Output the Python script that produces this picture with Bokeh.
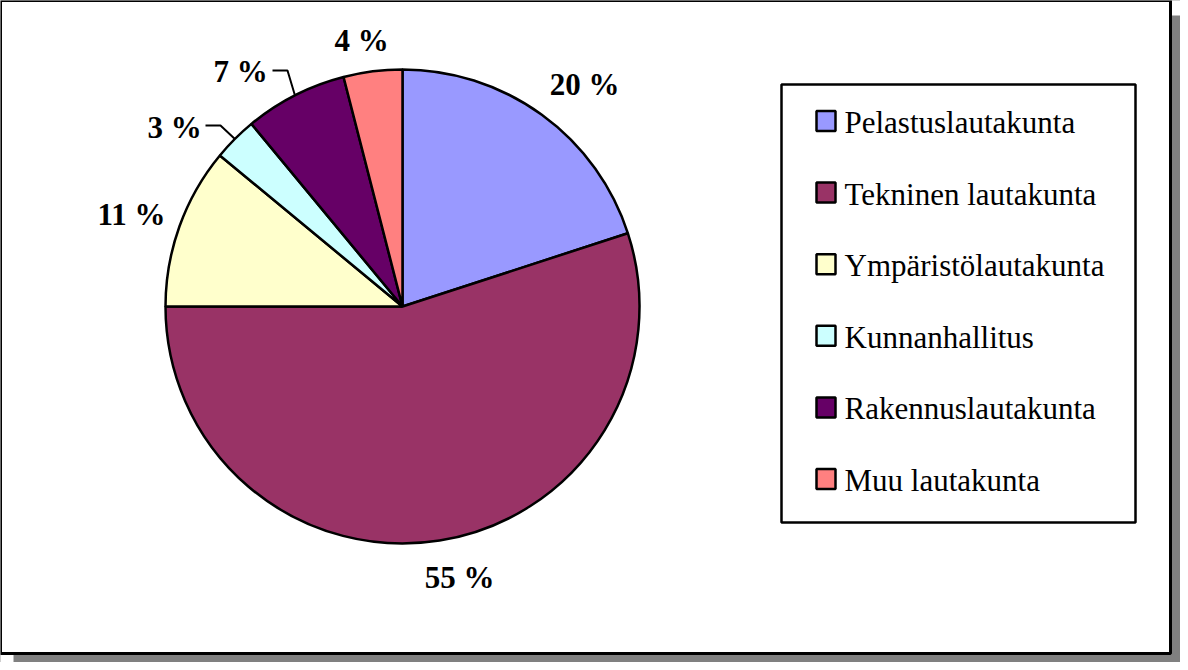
import math
from bokeh.plotting import figure
from bokeh.models import Range1d
from bokeh.core.properties import value
from bokeh.embed import file_html
from bokeh.resources import INLINE

# ---- data ----
categories = ["Pelastuslautakunta", "Tekninen lautakunta", "Ympäristölautakunta",
              "Kunnanhallitus", "Rakennuslautakunta", "Muu lautakunta"]
shares = [20, 55, 11, 3, 7, 4]
share_labels = ["20 %", "55 %", "11 %", "3 %", "7 %", "4 %"]
colors = ["#9999FF", "#993366", "#FFFFCC", "#CCFFFF", "#660066", "#FF8080"]

# ---- layout (page pixel coordinates) ----
W, H = 1180, 662
PAGE_BOTTOM = H + 8
TEXT_FIX = -10  # baseline correction for svg text


def Y(py):
    return PAGE_BOTTOM - py


CX, CY, R = 410, 314, 237
label_centers = [(592, 91), (467, 584), (139, 221), (182, 134), (248, 78), (369, 47)]
leader_starts = {3: (213, 133), 4: (280, 78)}

p = figure(width=W, height=H, x_range=Range1d(8, 8 + W), y_range=Range1d(0, H),
           output_backend="svg", toolbar_location=None, min_border=0)
p.axis.visible = False
p.grid.visible = False
p.outline_line_color = None
p.background_fill_color = "#808080"
p.border_fill_color = "#808080"

# outer frame with shadow
p.quad(left=[8], right=[21], top=[Y(8)], bottom=[Y(670)], fill_color="white", line_color=None)
p.quad(left=[8], right=[1188], top=[Y(8)], bottom=[Y(23)], fill_color="white", line_color=None)
p.quad(left=[8], right=[1178], top=[Y(8)], bottom=[Y(661)], fill_color="white",
       line_color="black", line_width=3)

# pie
total = float(sum(shares))
cum = 0.0
starts, ends, mids = [], [], []
for s in shares:
    a0 = math.pi / 2 - 2 * math.pi * cum / total
    cum += s
    a1 = math.pi / 2 - 2 * math.pi * cum / total
    starts.append(a1)
    ends.append(a0)
    mids.append((a0 + a1) / 2)

p.wedge(x=CX, y=Y(CY), radius=R, start_angle=starts, end_angle=ends,
        fill_color=colors, line_color="black", line_width=2.5, direction="anticlock")

# labels
for i, (lx, ly) in enumerate(label_centers):
    p.text(x=[lx], y=[Y(ly + 11 + TEXT_FIX)], text=[share_labels[i]], text_align="center",
           text_baseline="alphabetic", text_font=value("Liberation Serif"),
           text_font_style="bold", text_font_size="31px", text_color="black")

# leader lines
for i, (sx, sy) in leader_starts.items():
    ex = CX + R * math.cos(mids[i])
    ey = CY - R * math.sin(mids[i])
    p.line(x=[sx, sx + 15, ex], y=[Y(sy), Y(sy), Y(ey)], line_color="black", line_width=2)

# legend
p.quad(left=[789], right=[1143], top=[Y(92)], bottom=[Y(530)], fill_color="white",
       line_color="black", line_width=2.5)
row0, step = 128.5, 71.6
for i, name in enumerate(categories):
    yc = row0 + i * step
    p.quad(left=[824], right=[843], top=[Y(yc - 10)], bottom=[Y(yc + 10)],
           fill_color=colors[i], line_color="black", line_width=2.5)
    p.text(x=[852], y=[Y(yc + 11.5 + TEXT_FIX)], text=[name], text_align="left",
           text_baseline="alphabetic", text_font=value("Liberation Serif"),
           text_font_size="31px", text_color="black")

open("out.html", "w").write(file_html(p, INLINE))
